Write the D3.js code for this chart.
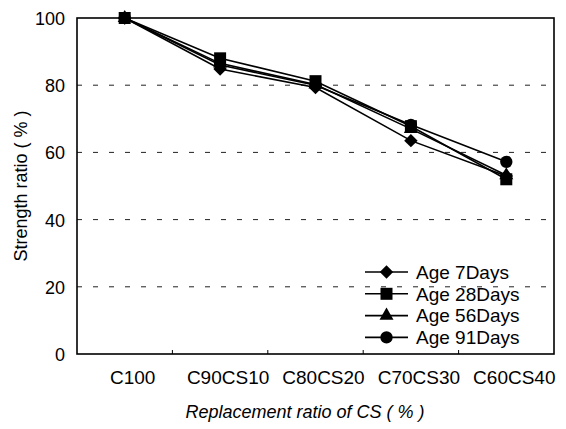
<!DOCTYPE html>
<html>
<head>
<meta charset="utf-8">
<script src="https://cdn.jsdelivr.net/npm/d3@7"></script>
<style>
  body { margin: 0; background: #fff; }
  text { font-family: "Liberation Sans", Arial, sans-serif; fill: #000; }
</style>
</head>
<body>
<svg id="chart" width="566" height="429"></svg>
<script>
// data
var categories = ["C100", "C90CS10", "C80CS20", "C70CS30", "C60CS40"];
var seriesNames = ["Age 7Days", "Age 28Days", "Age 56Days", "Age 91Days"];
var age7 = [100, 84.8, 79.3, 63.5, 53.0];
var age28 = [100, 88.0, 81.2, 67.8, 52.0];
var age56 = [100, 86.5, 80.2, 67.0, 53.2];
var age91 = [100, 86.0, 80.0, 68.2, 57.2];
var yTicks = [0, 20, 40, 60, 80, 100];

var svg = d3.select("#chart");
var margin = {left: 77, right: 12, top: 18, bottom: 75};
var width = 566 - margin.left - margin.right,
    height = 429 - margin.top - margin.bottom;

var g = svg.append("g")
    .attr("transform", "translate(" + margin.left + "," + margin.top + ")");

var x = d3.scaleBand().domain(categories).range([0, width]);
var y = d3.scaleLinear().domain([0, 100]).range([height, 0]);

// dashed grid
g.selectAll("line.grid")
  .data(yTicks.filter(function(d) { return d > 0 && d < 100; }))
  .enter().append("line")
    .attr("class", "grid")
    .attr("x1", 0).attr("x2", width)
    .attr("y1", function(d) { return y(d); })
    .attr("y2", function(d) { return y(d); })
    .attr("stroke", "#222")
    .attr("stroke-width", 1)
    .attr("stroke-dasharray", "5,11");

// frame
g.append("rect")
  .attr("width", width).attr("height", height)
  .attr("fill", "none").attr("stroke", "#000").attr("stroke-width", 1.6);

// y axis
var yAxis = g.append("g")
  .call(d3.axisLeft(y).tickValues(yTicks).tickSize(0).tickPadding(12));
yAxis.select(".domain").remove();
yAxis.selectAll("text").style("font-size", "18px").attr("dy", "0.36em");

// x axis: ticks at the category boundaries, pointing inward
var xAxis = g.append("g").attr("transform", "translate(0," + height + ")");
xAxis.selectAll("line")
  .data(categories.slice(1))
  .enter().append("line")
    .attr("x1", function(d) { return x(d); })
    .attr("x2", function(d) { return x(d); })
    .attr("y1", 0).attr("y2", -4)
    .attr("stroke", "#000");
xAxis.selectAll("text")
  .data(categories)
  .enter().append("text")
    .attr("x", function(d) { return x(d) + x.bandwidth() / 2 + 8; })
    .attr("y", 30)
    .attr("text-anchor", "middle")
    .style("font-size", "19px")
    .text(function(d) { return d; });

// axis titles
svg.append("text")
  .attr("transform", "translate(27," + (margin.top + height / 2) + ") rotate(-90)")
  .attr("text-anchor", "middle")
  .style("font-size", "18px")
  .text("Strength ratio ( % )");

svg.append("text")
  .attr("x", 305)
  .attr("y", 418)
  .attr("text-anchor", "middle")
  .style("font-size", "18px")
  .style("font-style", "italic")
  .text("Replacement ratio of CS ( % )");

// series
var diamond = d3.symbol().type(d3.symbolSquare).size(90);
var series = [
  {name: seriesNames[0], values: age7, symbol: d3.symbolSquare, size: 90, rot: 45},
  {name: seriesNames[1], values: age28, symbol: d3.symbolSquare, size: 144, rot: 0},
  {name: seriesNames[2], values: age56, symbol: d3.symbolTriangle, size: 85, rot: 0},
  {name: seriesNames[3], values: age91, symbol: d3.symbolCircle, size: 120, rot: 0}
];

var line = d3.line()
  .x(function(d, i) { return x(categories[i]) + x.bandwidth() / 2; })
  .y(function(d) { return y(d); });

series.forEach(function(s) {
  g.append("path")
    .datum(s.values)
    .attr("fill", "none")
    .attr("stroke", "#000")
    .attr("stroke-width", 1.6)
    .attr("d", line);
});

series.forEach(function(s) {
  g.selectAll(null)
    .data(s.values)
    .enter().append("path")
      .attr("transform", function(d, i) {
        return "translate(" + (x(categories[i]) + x.bandwidth() / 2) + "," + y(d) + ") rotate(" + s.rot + ")";
      })
      .attr("d", d3.symbol().type(s.symbol).size(s.size))
      .attr("fill", "#000");
});

// legend
var legend = svg.append("g").attr("transform", "translate(365,272)");
series.forEach(function(s, i) {
  var row = legend.append("g").attr("transform", "translate(0," + (i * 21.8) + ")");
  row.append("line")
    .attr("x1", 0).attr("x2", 43)
    .attr("stroke", "#000").attr("stroke-width", 1.6);
  row.append("path")
    .attr("transform", "translate(21.5,0) rotate(" + s.rot + ")")
    .attr("d", d3.symbol().type(s.symbol).size(s.size))
    .attr("fill", "#000");
  row.append("text")
    .attr("x", 51)
    .attr("dy", "0.36em")
    .style("font-size", "19px")
    .text(s.name);
});
</script>
</body>
</html>
